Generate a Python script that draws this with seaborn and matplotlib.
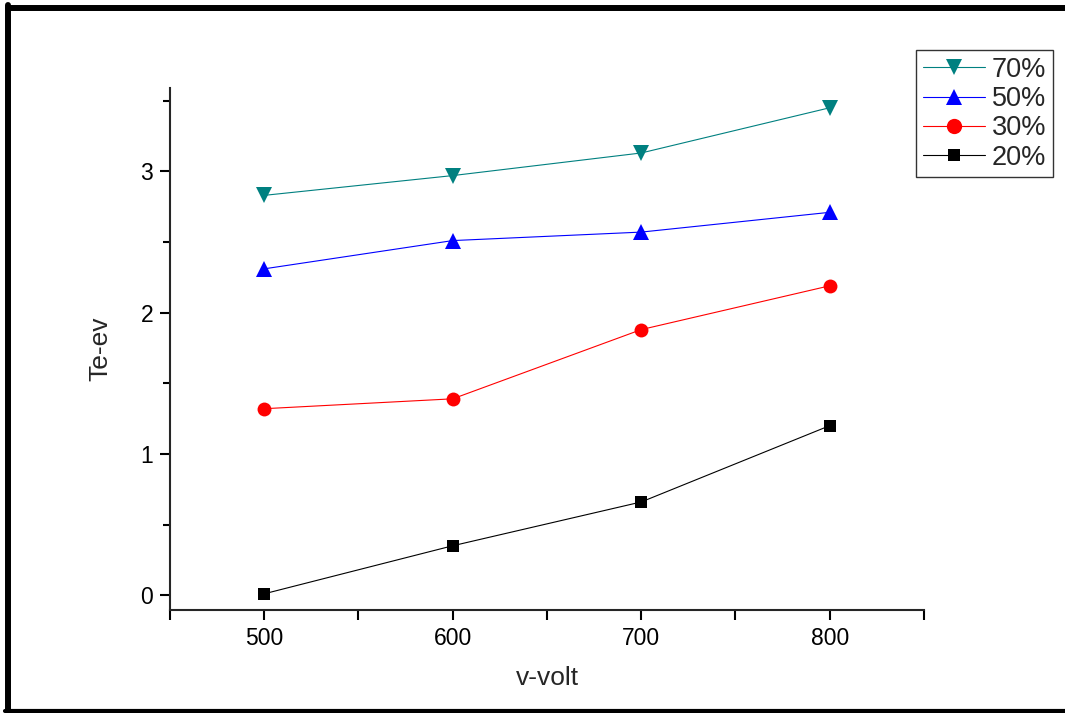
import pandas as pd
import seaborn as sns
import matplotlib.pyplot as plt
from matplotlib.lines import Line2D
from matplotlib.ticker import MultipleLocator

volts = [500, 600, 700, 800]
te_70 = [2.83, 2.97, 3.13, 3.45]
te_50 = [2.31, 2.51, 2.57, 2.71]
te_30 = [1.32, 1.39, 1.88, 2.19]
te_20 = [0.01, 0.35, 0.66, 1.20]
labels = ["70%", "50%", "30%", "20%"]

df = pd.DataFrame({
    "volt": volts * 4,
    "te": te_70 + te_50 + te_30 + te_20,
    "pct": [l for l in labels for _ in volts],
})

colors = {"70%": "#008080", "50%": "#0000ff", "30%": "#ff0000", "20%": "#000000"}
markers = {"70%": "v", "50%": "^", "30%": "o", "20%": "s"}
msizes = {"70%": 11, "50%": 11, "30%": 10, "20%": 8}

sns.set_theme(style="ticks")
plt.rcParams['font.family'] = ['Liberation Sans', 'DejaVu Sans']

fig = plt.figure(figsize=(10.65, 7.13), dpi=100)
ax = fig.add_axes([0.1596, 0.1444, 0.7080, 0.7322])

for lab in labels:
    sub = df[df["pct"] == lab]
    sns.lineplot(data=sub, x="volt", y="te", ax=ax, color=colors[lab],
                 marker=markers[lab], markersize=msizes[lab], markeredgewidth=0,
                 linewidth=0.8, legend=False)

ax.set_xlim(450, 850)
ax.set_ylim(-0.105, 3.59)
ax.xaxis.set_minor_locator(MultipleLocator(50))
ax.yaxis.set_major_locator(MultipleLocator(1))
ax.yaxis.set_minor_locator(MultipleLocator(0.5))
ax.set_xticks([500, 600, 700, 800])
ax.tick_params(which="both", direction="out", length=7, width=1.5, labelsize=16.5,
               colors="black", pad=5)
ax.tick_params(axis="y", which="minor", length=5)
ax.tick_params(axis="x", which="minor", length=7)

sns.despine(ax=ax)
ax.spines["left"].set_linewidth(1.5)
ax.spines["bottom"].set_linewidth(1.5)

ax.set_xlabel("v-volt", fontsize=19, labelpad=12)
ax.set_ylabel("Te-ev", fontsize=19, labelpad=20)

handles = [Line2D([0], [0], color=colors[l], marker=markers[l], markersize=msizes[l] + 1,
                  markeredgewidth=0, linewidth=0.8) for l in labels]
leg = fig.legend(handles, labels, loc="upper left", bbox_to_anchor=(916 / 1065, 1 - 50 / 713),
                 bbox_transform=fig.transFigure, borderaxespad=0, fontsize=19.5,
                 frameon=True, fancybox=False, edgecolor="black", handlelength=2.3,
                 handletextpad=0.25, labelspacing=0.12, borderpad=0.25)
leg.get_frame().set_linewidth(1.0)

# page frame around the figure
W, H = 1065, 713
fig.add_artist(Line2D([8 / W, 1], [1 - 8 / H, 1 - 8 / H], color="black", linewidth=4.3,
                      transform=fig.transFigure))
fig.add_artist(Line2D([8 / W, 8 / W], [1 - 5 / H, 2 / H], color="black", linewidth=4.3,
                      transform=fig.transFigure))
fig.add_artist(Line2D([5 / W, 1], [2 / H, 2 / H], color="black", linewidth=3.0,
                      transform=fig.transFigure))

fig.savefig("out.png", dpi=100, facecolor="white")
